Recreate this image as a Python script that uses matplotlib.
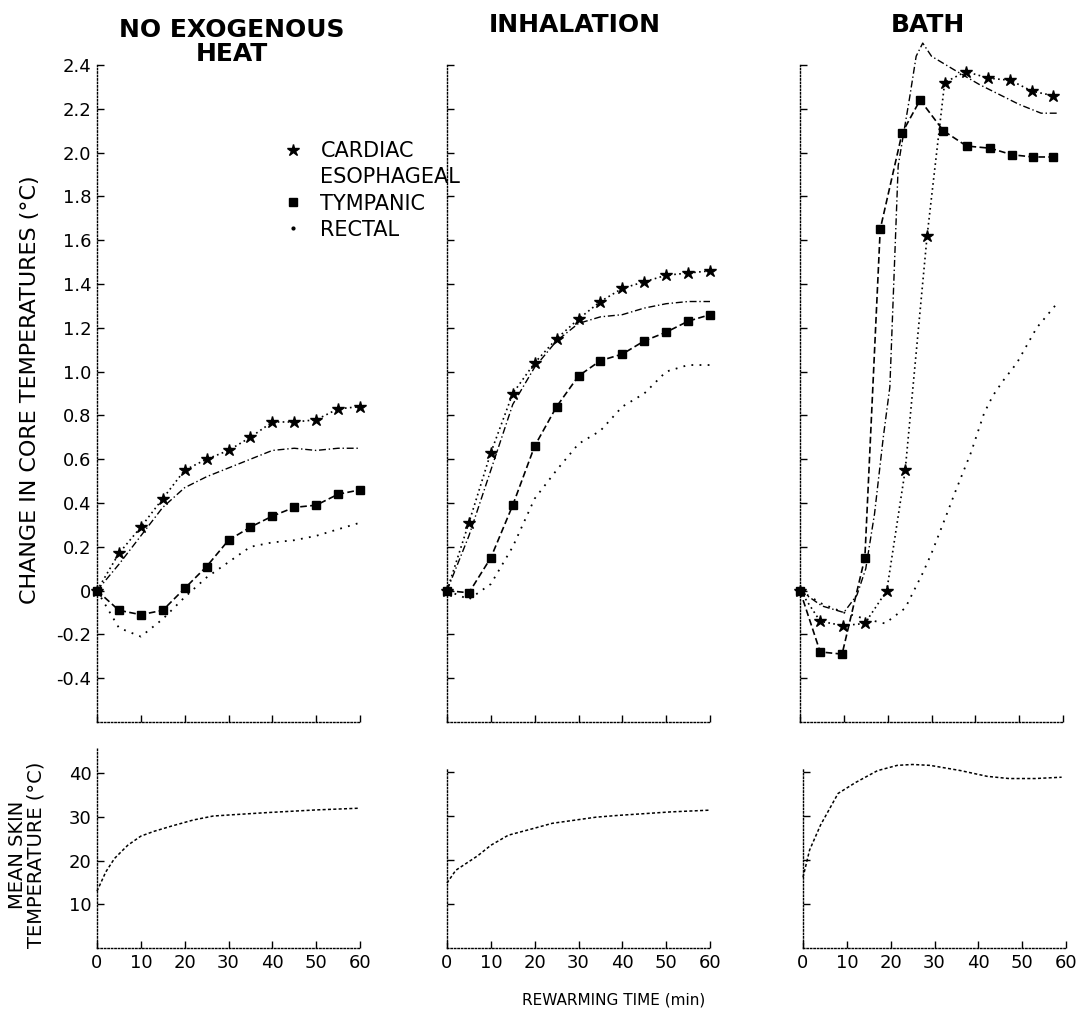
import matplotlib
matplotlib.use("Agg")
import matplotlib.pyplot as plt
from matplotlib.lines import Line2D

# rewarming time (min), 5-min readings
t5 = [0, 5, 10, 15, 20, 25, 30, 35, 40, 45, 50, 55, 60]

# NO EXOGENOUS HEAT - change in core temperatures (deg C)
ne_cardiac = [0, 0.17, 0.29, 0.42, 0.55, 0.60, 0.64, 0.70, 0.77, 0.77, 0.78, 0.83, 0.84]
ne_esoph = [0, 0.12, 0.25, 0.38, 0.47, 0.52, 0.56, 0.60, 0.64, 0.65, 0.64, 0.65, 0.65]
ne_tymp = [0, -0.09, -0.11, -0.09, 0.01, 0.11, 0.23, 0.29, 0.34, 0.38, 0.39, 0.44, 0.46]
ne_rectal = [0, -0.17, -0.21, -0.13, -0.03, 0.06, 0.13, 0.20, 0.22, 0.23, 0.25, 0.28, 0.31]

# INHALATION
in_cardiac = [0, 0.31, 0.63, 0.90, 1.04, 1.15, 1.24, 1.32, 1.38, 1.41, 1.44, 1.45, 1.46]
in_esoph = [0, 0.25, 0.55, 0.85, 1.02, 1.14, 1.22, 1.25, 1.26, 1.29, 1.31, 1.32, 1.32]
in_tymp = [0, -0.01, 0.15, 0.39, 0.66, 0.84, 0.98, 1.05, 1.08, 1.14, 1.18, 1.23, 1.26]
in_rectal = [0, -0.04, 0.03, 0.20, 0.42, 0.55, 0.67, 0.73, 0.84, 0.90, 1.00, 1.03, 1.03]

# BATH (readings not exactly on the 5-min grid in the figure)
bt_cardiac_t = [0, 4.6, 9.8, 14.8, 19.8, 24, 29, 33, 37.8, 43, 48, 53, 57.8]
bt_cardiac = [0, -0.14, -0.16, -0.15, 0.0, 0.55, 1.62, 2.32, 2.37, 2.34, 2.33, 2.28, 2.26]
bt_esoph_t = [0, 5, 10, 13, 15, 17, 19, 20.5, 22.4, 25, 26.5, 28, 30, 35, 41, 46, 50, 55, 59]
bt_esoph = [0, -0.07, -0.10, -0.02, 0.10, 0.35, 0.70, 0.93, 1.94, 2.25, 2.44, 2.50, 2.44,
            2.38, 2.31, 2.26, 2.22, 2.18, 2.18]
bt_tymp_t = [0, 4.6, 9.6, 14.8, 18.3, 23.3, 27.4, 32.7, 38, 43.4, 48.4, 53.2, 57.8]
bt_tymp = [0, -0.28, -0.29, 0.15, 1.65, 2.09, 2.24, 2.10, 2.03, 2.02, 1.99, 1.98, 1.98]
bt_rectal_t = [0, 5, 10, 15, 19.4, 24, 28, 30, 33.5, 35.4, 39, 42, 44, 46.4, 49.5, 54, 59]
bt_rectal = [0, -0.06, -0.10, -0.13, -0.15, -0.08, 0.08, 0.17, 0.35, 0.45, 0.63, 0.81,
             0.89, 0.96, 1.04, 1.20, 1.32]

# mean skin temperature (deg C)
ne_skin_t = [0, 2, 4, 7, 10, 13, 17, 22, 26.5, 31, 39, 50, 60]
ne_skin = [13, 17.4, 20.5, 23.5, 25.6, 26.7, 27.9, 29.3, 30.2, 30.5, 31.0, 31.6, 32.0]
in_skin_t = [0, 2, 7, 10, 14, 20, 24, 29, 34, 39, 51, 60]
in_skin = [14.8, 17.7, 21.0, 23.4, 25.7, 27.3, 28.4, 29.1, 29.8, 30.2, 31.0, 31.4]
bt_skin_t = [0, 1.5, 4, 8, 12, 17, 21.5, 25, 29, 36, 42, 47, 53, 59]
bt_skin = [16.1, 22.3, 28.0, 35.2, 37.7, 40.4, 41.6, 41.8, 41.6, 40.4, 39.1, 38.6, 38.6, 38.9]

time_ticks = [0, 10, 20, 30, 40, 50, 60]
core_ticks = [-0.4, -0.2, 0, 0.2, 0.4, 0.6, 0.8, 1.0, 1.2, 1.4, 1.6, 1.8, 2.0, 2.2, 2.4]
core_labels = ['-0.4', '-0.2', '0', '0.2', '0.4', '0.6', '0.8', '1.0', '1.2', '1.4',
               '1.6', '1.8', '2.0', '2.2', '2.4']
skin_ticks = [10, 20, 30, 40]

styles = {
    'cardiac': dict(ls=(0, (1, 2)), lw=1.2, marker='*', ms=9, color='black'),
    'esoph': dict(ls=(0, (5, 2, 1, 2)), lw=1.0, color='black'),
    'tymp': dict(ls=(0, (4, 2)), lw=1.2, marker='s', ms=6, color='black'),
    'rectal': dict(ls=(0, (1, 3.5)), lw=1.3, color='black'),
}

W, H = 1084, 1021
fig = plt.figure(figsize=(W / 100, H / 100), dpi=100)


def style_axes(ax):
    for s in ['top', 'right']:
        ax.spines[s].set_visible(False)
    for s in ['left', 'bottom']:
        ax.spines[s].set_linestyle((0, (1, 1.5)))
        ax.spines[s].set_linewidth(1.0)
    ax.tick_params(direction='in', length=5, width=1, labelsize=13, pad=4)
    ax.set_xlim(0, 60)
    ax.set_xticks(time_ticks)


top_y, top_h = 1 - 722 / H, 657 / H
bot_y = 1 - 948 / H
lefts = [97 / W, 447 / W, 800 / W]
wid = 263 / W

top_axes = [fig.add_axes([l, top_y, wid, top_h]) for l in lefts]
bot_axes = [fig.add_axes([lefts[0], bot_y, wid, 201 / H]),
            fig.add_axes([lefts[1], bot_y, wid, 180 / H]),
            fig.add_axes([803 / W, bot_y, wid, 180 / H])]

core_sets = [
    [(t5, ne_cardiac, 'cardiac'), (t5, ne_esoph, 'esoph'), (t5, ne_tymp, 'tymp'), (t5, ne_rectal, 'rectal')],
    [(t5, in_cardiac, 'cardiac'), (t5, in_esoph, 'esoph'), (t5, in_tymp, 'tymp'), (t5, in_rectal, 'rectal')],
    [(bt_cardiac_t, bt_cardiac, 'cardiac'), (bt_esoph_t, bt_esoph, 'esoph'),
     (bt_tymp_t, bt_tymp, 'tymp'), (bt_rectal_t, bt_rectal, 'rectal')],
]

for i, ax in enumerate(top_axes):
    style_axes(ax)
    for tt, vv, key in core_sets[i]:
        ax.plot(tt, vv, clip_on=False, **styles[key])
    ax.set_ylim(-0.6, 2.4)
    ax.set_yticks(core_ticks)
    ax.set_xticklabels([])
    if i == 0:
        ax.set_yticklabels(core_labels)
    else:
        ax.set_yticklabels([])

skin_sets = [(ne_skin_t, ne_skin), (in_skin_t, in_skin), (bt_skin_t, bt_skin)]
for i, ax in enumerate(bot_axes):
    style_axes(ax)
    ax.plot(skin_sets[i][0], skin_sets[i][1], color='black', lw=1.1,
            ls=(0, (2, 1.5)), clip_on=False)
    ax.set_ylim(0, 46 if i == 0 else 41)
    ax.set_yticks(skin_ticks)
    ax.set_xticklabels([str(v) for v in time_ticks])
    if i > 0:
        ax.set_yticklabels([])

# titles
fig.text(232 / W, 1 - 42 / H, 'NO EXOGENOUS\nHEAT', ha='center', va='center',
         fontsize=18, fontweight='bold', linespacing=0.95)
fig.text(575 / W, 1 - 25 / H, 'INHALATION', ha='center', va='center',
         fontsize=18, fontweight='bold')
fig.text(928 / W, 1 - 25 / H, 'BATH', ha='center', va='center',
         fontsize=18, fontweight='bold')

fig.text(30 / W, 1 - 390 / H, 'CHANGE IN CORE TEMPERATURES (\u00b0C)', rotation=90,
         ha='center', va='center', fontsize=16)
fig.text(27 / W, 1 - 855 / H, 'MEAN SKIN\nTEMPERATURE (\u00b0C)', rotation=90,
         ha='center', va='center', fontsize=14, linespacing=1.0)
fig.text(614 / W, 1 - 1000 / H, 'REWARMING TIME (min)', ha='center', va='center',
         fontsize=11)

handles = [Line2D([], [], ls='none', marker='*', ms=9, color='black'),
           Line2D([], [], ls='none', color='black'),
           Line2D([], [], ls='none', marker='s', ms=6, color='black'),
           Line2D([], [], ls='none', marker='.', ms=4, color='black')]
fig.legend(handles, ['CARDIAC', 'ESOPHAGEAL', 'TYMPANIC', 'RECTAL'],
           loc='upper left', bbox_to_anchor=(283 / W, 1 - 141 / H),
           frameon=False, fontsize=15, handlelength=1.0, handletextpad=0.8,
           labelspacing=0.3, borderpad=0, borderaxespad=0)

fig.savefig('out.png', dpi=100)
